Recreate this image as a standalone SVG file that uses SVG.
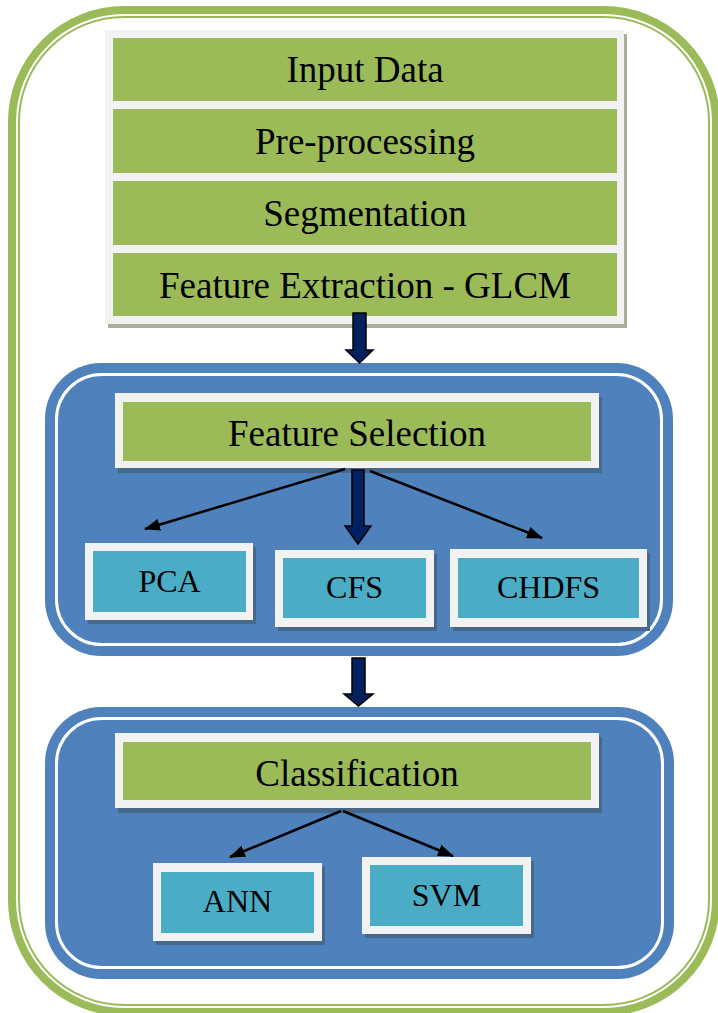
<svg xmlns="http://www.w3.org/2000/svg" width="718" height="1013" viewBox="0 0 718 1013">
  <style>
    .frame-thick { fill: none; stroke: #9bbb59; stroke-width: 8; }
    .frame-thin { fill: none; stroke: #9bbb59; stroke-width: 2; }
    .panel { fill: #4f81bd; }
    .panel-line { fill: none; stroke: #ffffff; stroke-width: 3; }
    .mat { fill: #f2f2f2; }
    .green { fill: #9bbb59; }
    .cyan { fill: #4bacc6; }
    .shadow-w { fill: #a9af9b; }
    .shadow-b { fill: #46698a; }
    .big { font-family: "Liberation Serif", "Times New Roman", serif; font-size: 37px; fill: #000; text-anchor: middle; }
    .small { font-family: "Liberation Serif", "Times New Roman", serif; font-size: 32px; fill: #000; text-anchor: middle; }
    .block { fill: #002060; stroke: #000; stroke-width: 1.5; stroke-linejoin: miter; }
    .thin { fill: none; stroke: #000; stroke-width: 2.5; marker-end: url(#head); }
  </style>
  <defs>
    <marker id="head" viewBox="0 0 16 12" refX="15" refY="6" markerWidth="16" markerHeight="12" markerUnits="userSpaceOnUse" orient="auto">
      <path d="M0,0 L16,6 L0,12 Z" fill="#000"/>
    </marker>
  </defs>

  <rect width="718" height="1013" fill="#ffffff"/>

  <!-- outer double-line frame -->
  <g id="frame">
    <rect class="frame-thick" x="12" y="10" width="704" height="1002" rx="112" ry="112"/>
    <rect class="frame-thin" x="19" y="17" width="690" height="988" rx="105" ry="105"/>
  </g>

  <!-- rounded blue panels -->
  <g id="panel-selection">
    <rect class="panel" x="45" y="363" width="628" height="293" rx="56" ry="56"/>
    <rect class="panel-line" x="56.5" y="374.5" width="605" height="270" rx="45" ry="45"/>
  </g>
  <g id="panel-classification">
    <rect class="panel" x="45" y="707" width="629" height="272" rx="56" ry="56"/>
    <rect class="panel-line" x="56.5" y="718.5" width="606" height="249" rx="45" ry="45"/>
  </g>

  <!-- pipeline stack -->
  <g id="input-data">
    <rect class="shadow-w" x="108" y="34" width="519" height="75"/>
    <rect class="mat" x="105" y="30" width="519" height="75"/>
    <rect class="green" x="113" y="38" width="504" height="63"/>
    <text class="big" x="365" y="82">Input Data</text>
  </g>
  <g id="pre-processing">
    <rect class="shadow-w" x="108" y="109" width="519" height="72"/>
    <rect class="mat" x="105" y="105" width="519" height="72"/>
    <rect class="green" x="113" y="109" width="504" height="64"/>
    <text class="big" x="365" y="154">Pre-processing</text>
  </g>
  <g id="segmentation">
    <rect class="shadow-w" x="108" y="181" width="519" height="72"/>
    <rect class="mat" x="105" y="177" width="519" height="72"/>
    <rect class="green" x="113" y="181" width="504" height="64"/>
    <text class="big" x="365" y="226">Segmentation</text>
  </g>
  <g id="feature-extraction">
    <rect class="shadow-w" x="108" y="253" width="519" height="75"/>
    <rect class="mat" x="105" y="249" width="519" height="75"/>
    <rect class="green" x="113" y="253" width="504" height="63"/>
    <text class="big" x="365" y="298">Feature Extraction - GLCM</text>
  </g>

  <!-- feature selection -->
  <g id="feature-selection">
    <rect class="shadow-b" x="118" y="397" width="484" height="76"/>
    <rect class="mat" x="115" y="393" width="484" height="75"/>
    <rect class="green" x="123" y="402" width="468" height="59"/>
    <text class="big" x="357" y="446">Feature Selection</text>
  </g>
  <g id="pca">
    <rect class="shadow-b" x="88" y="547" width="168" height="77"/>
    <rect class="mat" x="85" y="543" width="168" height="77"/>
    <rect class="cyan" x="93" y="551" width="153" height="61"/>
    <text class="small" x="169.5" y="592">PCA</text>
  </g>
  <g id="cfs">
    <rect class="shadow-b" x="278" y="554" width="159" height="77"/>
    <rect class="mat" x="275" y="550" width="159" height="77"/>
    <rect class="cyan" x="283" y="558" width="143" height="60"/>
    <text class="small" x="354.5" y="598">CFS</text>
  </g>
  <g id="chdfs">
    <rect class="shadow-b" x="453" y="553" width="197" height="78"/>
    <rect class="mat" x="450" y="549" width="197" height="78"/>
    <rect class="cyan" x="458" y="558" width="181" height="60"/>
    <text class="small" x="548.5" y="598">CHDFS</text>
  </g>

  <!-- classification -->
  <g id="classification">
    <rect class="shadow-b" x="118" y="737" width="484" height="76"/>
    <rect class="mat" x="115" y="733" width="484" height="75"/>
    <rect class="green" x="123" y="742" width="468" height="58"/>
    <text class="big" x="357" y="786">Classification</text>
  </g>
  <g id="ann">
    <rect class="shadow-b" x="156" y="867" width="169" height="78"/>
    <rect class="mat" x="153" y="863" width="169" height="78"/>
    <rect class="cyan" x="161" y="872" width="153" height="61"/>
    <text class="small" x="237.5" y="912">ANN</text>
  </g>
  <g id="svm">
    <rect class="shadow-b" x="365" y="861" width="169" height="77"/>
    <rect class="mat" x="362" y="857" width="169" height="77"/>
    <rect class="cyan" x="370" y="865" width="153" height="61"/>
    <text class="small" x="446.5" y="906">SVM</text>
  </g>

  <!-- connectors -->
  <g id="connectors">
    <path class="block" d="M353,313 H366 V350 H373 L359.5,363 L346,350 H353 Z"/>
    <path class="block" d="M352,470 H364 V526 H371 L358,544 L345,526 H352 Z"/>
    <path class="block" d="M352,658 H365 V694 H373 L358.5,706 L344,694 H352 Z"/>
    <line class="thin" x1="345" y1="469" x2="145" y2="529"/>
    <line class="thin" x1="370" y1="471" x2="542" y2="538"/>
    <line class="thin" x1="341" y1="811" x2="230" y2="857"/>
    <line class="thin" x1="343" y1="811" x2="453" y2="856"/>
  </g>
</svg>
